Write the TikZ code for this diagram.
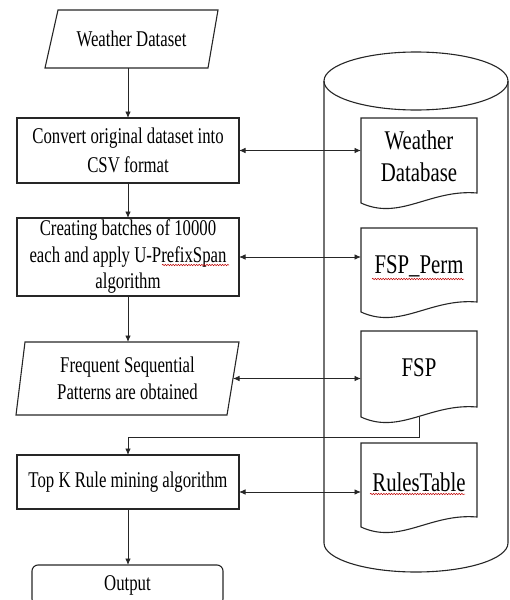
\documentclass[tikz,border=0pt]{standalone}
\usepackage{fontspec}
\setmainfont{Liberation Serif}[FakeStretch=0.745]
\newfontfamily\docfont{Liberation Serif}[FakeStretch=0.77]
\usetikzlibrary{arrows.meta,decorations.pathmorphing}
\newcommand\docoutline[2]{% #1 top y, #2 left bottom y
  \draw[ln] (361,#1) -- (477,#1) -- (477,#2-10)
    .. controls (430,#2-14) and (400,#2+18) .. (361,#2) -- cycle;}
\begin{document}
\begin{tikzpicture}[x=1pt,y=-1pt,
  ln/.style={draw=black!85, line width=1.1pt},
  txt/.style={rectangle, inner sep=0, outer sep=0, align=center,
    font=\fontsize{22.5}{26.5}\selectfont},
  box/.style={txt, ln, minimum width=222},
  docnode/.style={rectangle, minimum width=116, inner sep=0, outer sep=0, align=center,
    font=\docfont\fontsize{27}{32}\selectfont},
  arr/.style={draw=black!85, line width=0.9pt, -{Latex[length=6.5pt,width=5.5pt]}},
  darr/.style={arr, {Latex[length=6.5pt,width=5.5pt]}-{Latex[length=6.5pt,width=5.5pt]}},
  squig/.style={draw=red!75!black, line width=0.5pt, decorate,
    decoration={snake, amplitude=0.7pt, segment length=2.6pt}}
]
\clip (0,0) rectangle (509,600);
% database cylinder
\draw[ln] (416,81) ellipse [x radius=92pt, y radius=29pt];
\draw[ln] (324,81) -- (324,543) .. controls (324,559) and (365.2,572) .. (416,572)
  .. controls (466.8,572) and (508,559) .. (508,543) -- (508,81);
% documents
\docoutline{118}{203}
\docoutline{228}{312}
\docoutline{331}{417}
\docoutline{443}{527}
\node[docnode] (wdb) at (419,156) {Weather\\Database};
\node[docnode] (perm) at (419,266) {FSP\_Perm};
\node[docnode] (fspd) at (419,368) {FSP};
\node[docnode] (rules) at (419,482) {RulesTable};
% flow
\node[txt, minimum width=173, minimum height=58] (ds) at (131.5,39) {Weather Dataset};
\draw[ln] ([xshift=13pt]ds.north west) -- (ds.north east)
  -- ([xshift=-10pt]ds.south east) -- (ds.south west) -- cycle;
\node[box, minimum height=65, font=\fontsize{22.5}{28.5}\selectfont] (conv) at (128,150.5) {Convert original dataset into\\CSV format};
\node[box, minimum height=78] (batch) at (128,257) {Creating batches of 10000\\each and apply U-PrefixSpan\\algorithm};
\node[txt, minimum width=223, minimum height=73] (fsp1) at (127.5,378.5) {Frequent Sequential\\Patterns are obtained};
\draw[ln] ([xshift=9pt]fsp1.north west) -- (fsp1.north east)
  -- ([xshift=-12pt]fsp1.south east) -- (fsp1.south west) -- cycle;
\node[box, minimum height=54] (topk) at (128,482) {Top K Rule mining algorithm};
\node[box, rounded corners=6pt, minimum width=191, minimum height=40] (out) at (127.5,585) {Output};
\coordinate (fspb) at (419,417);
% connectors
\draw[arr] (conv.north |- ds.south) -- (conv.north);
\draw[arr] (conv) -- (batch);
\draw[arr] (batch.south) -- (batch.south |- fsp1.north);
\draw[arr] (topk.south) -- (topk.south |- out.north);
\draw[arr] (fspb) -- ++(0,20) -| (topk.north);
\draw[darr] (conv.east) -- (conv.east -| wdb.west);
\draw[darr] (batch.east) -- (batch.east -| perm.west);
\draw[darr] ([xshift=-6pt]fsp1.east) -- (fsp1.east -| fspd.west);
\draw[darr] ([yshift=-10pt]topk.east) -- ([yshift=-10pt]topk.east -| rules.west);
% spell-check marks
\draw[squig] (162,265) -- (229,265);
\draw[squig] (372,279) -- (464,279);
\draw[squig] (370,494) -- (465,494);
\end{tikzpicture}
\end{document}
